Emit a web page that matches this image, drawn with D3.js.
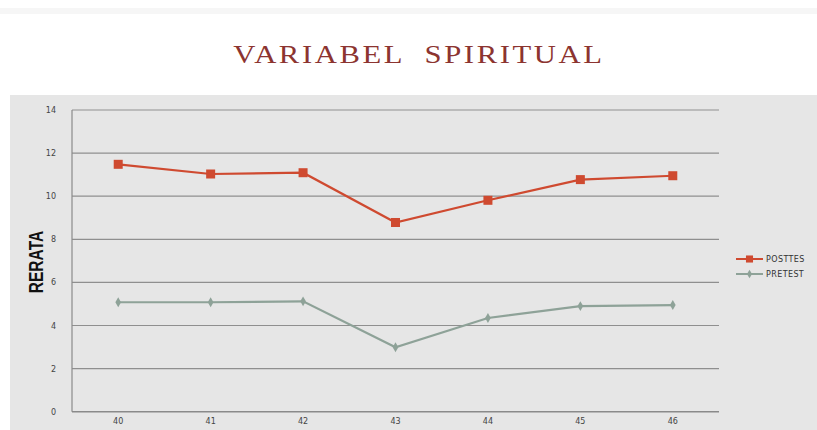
<!DOCTYPE html>
<html>
<head>
<meta charset="utf-8">
<script src="https://d3js.org/d3.v7.min.js"></script>
<style>
body { margin:0; background:#fff; }
</style>
</head>
<body>
<script>
var categories = ["40", "41", "42", "43", "44", "45", "46"];
var posttes = [11.48, 11.03, 11.09, 8.78, 9.81, 10.77, 10.95];
var pretest = [5.08, 5.08, 5.12, 2.99, 4.35, 4.9, 4.95];
var yTicks = [0, 2, 4, 6, 8, 10, 12, 14];
var seriesNames = ["POSTTES", "PRETEST"];

var width = 817, height = 430;
var plotLeft = 72, plotRight = 719, plotTop = 110, plotBottom = 411.7;

var svg = d3.select("body").append("svg")
	.attr("width", width)
	.attr("height", height);

// panel background
svg.append("rect")
	.attr("x", 0).attr("y", 8).attr("width", width).attr("height", 6)
	.attr("fill", "#f6f6f6");
svg.append("rect")
	.attr("x", 10).attr("y", 95).attr("width", width-10).attr("height", height-95)
	.attr("fill", "#e6e6e6");

svg.append("text")
	.attr("transform", "translate(419,62.5) scale(1.18,1)")
	.attr("text-anchor", "middle")
	.attr("font-family", "'Liberation Serif', 'DejaVu Serif', serif")
	.attr("font-size", 26)
	.attr("letter-spacing", "2.2px")
	.attr("fill", "#8c3430")
	.attr("xml:space", "preserve")
	.text("VARIABEL  SPIRITUAL");

var x = d3.scaleBand()
	.domain(categories)
	.range([plotLeft, plotRight]);
var y = d3.scaleLinear()
	.domain([0, 14])
	.range([plotBottom, plotTop]);

// gridlines
svg.append("g")
	.selectAll("line")
	.data(yTicks)
	.enter()
	.append("line")
		.attr("x1", plotLeft)
		.attr("x2", plotRight)
		.attr("y1", function(d) { return y(d); })
		.attr("y2", function(d) { return y(d); })
		.attr("stroke", function(d) { return d == 0 ? "#8a8a8a" : "#8f8f8f"; })
		.attr("stroke-width", function(d) { return d == 0 ? 1.5 : 1.2; });

svg.append("line")
	.attr("x1", plotLeft).attr("x2", plotLeft)
	.attr("y1", y(14)).attr("y2", y(0))
	.attr("stroke", "#8a8a8a")
	.attr("stroke-width", 1.2);

var yAxis = svg.append("g")
	.attr("transform", "translate(" + plotLeft + ",0)")
	.call(d3.axisLeft(y).tickValues(yTicks).tickSize(0).tickPadding(16));
yAxis.select(".domain").remove();
yAxis.selectAll("text")
	.attr("font-family", "'DejaVu Sans', sans-serif")
	.attr("font-size", 8)
	.attr("fill", "#444");

var xAxis = svg.append("g")
	.attr("transform", "translate(0," + plotBottom + ")")
	.call(d3.axisBottom(x).tickSize(0).tickPadding(7));
xAxis.select(".domain").remove();
xAxis.selectAll("text")
	.attr("font-family", "'DejaVu Sans', sans-serif")
	.attr("font-size", 8)
	.attr("fill", "#444");

svg.append("text")
	.attr("transform", "translate(43,262) rotate(-90) scale(0.74,1)")
	.attr("text-anchor", "middle")
	.attr("font-family", "'Liberation Sans', sans-serif")
	.attr("font-weight", "bold")
	.attr("font-size", 21)
	.attr("fill", "#111")
	.text("RERATA");

var line = d3.line()
	.x(function(d, i) { return x(categories[i]) + x.bandwidth()/2; })
	.y(function(d) { return y(d); });

var postColor = "#cf4a30", preColor = "#8ea298";

svg.append("path")
	.datum(pretest)
	.attr("d", line)
	.attr("fill", "none")
	.attr("stroke", preColor)
	.attr("stroke-width", 2.2);
svg.append("g")
	.selectAll("path")
	.data(pretest)
	.enter()
	.append("path")
		.attr("d", d3.symbol().type(d3.symbolDiamond).size(28))
		.attr("transform", function(d, i) { return "translate(" + (x(categories[i]) + x.bandwidth()/2) + "," + y(d) + ")"; })
		.attr("fill", preColor);

svg.append("path")
	.datum(posttes)
	.attr("d", line)
	.attr("fill", "none")
	.attr("stroke", postColor)
	.attr("stroke-width", 2.2);
svg.append("g")
	.selectAll("rect")
	.data(posttes)
	.enter()
	.append("rect")
		.attr("x", function(d, i) { return x(categories[i]) + x.bandwidth()/2 - 4.5; })
		.attr("y", function(d) { return y(d) - 4.5; })
		.attr("width", 9)
		.attr("height", 9)
		.attr("fill", postColor);

// legend
var legend = svg.append("g")
	.selectAll("g")
	.data(seriesNames)
	.enter()
	.append("g")
		.attr("transform", function(d, i) { return "translate(736," + (259 + i*15) + ")"; });
legend.append("line")
	.attr("x1", 0).attr("x2", 27)
	.attr("stroke", function(d, i) { return i == 0 ? postColor : preColor; })
	.attr("stroke-width", 2);
legend.append("path")
	.attr("d", function(d, i) { return i == 0 ? d3.symbol().type(d3.symbolSquare).size(50)() : d3.symbol().type(d3.symbolDiamond).size(22)(); })
	.attr("transform", "translate(13.5,0)")
	.attr("fill", function(d, i) { return i == 0 ? postColor : preColor; });
legend.append("text")
	.attr("x", 30)
	.attr("dy", "0.35em")
	.attr("font-family", "'DejaVu Sans', sans-serif")
	.attr("font-size", 8)
	.attr("letter-spacing", "0.4px")
	.attr("fill", "#333")
	.text(function(d) { return d; });
</script>
</body>
</html>
